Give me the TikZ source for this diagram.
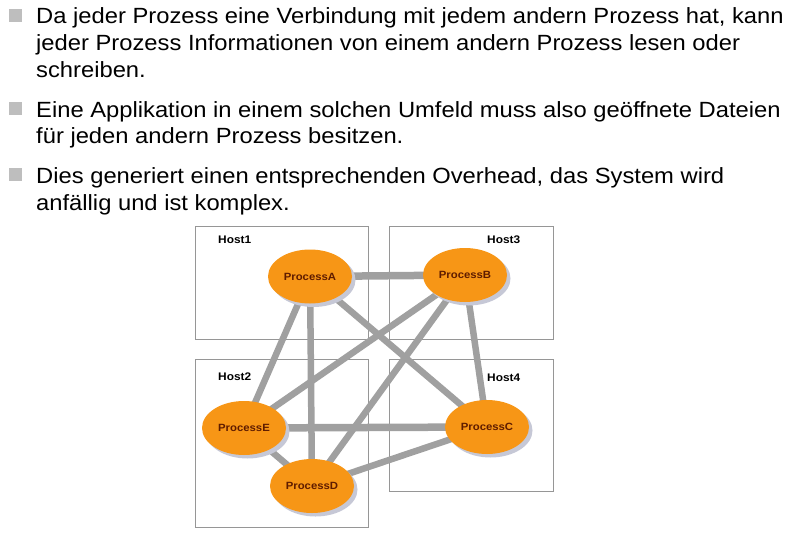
\documentclass[tikz,border=0pt]{standalone}
\usepackage{fontspec}
\setmainfont[FakeStretch=1.08]{Liberation Sans}
\usetikzlibrary{shapes.geometric,shadows,backgrounds}

\definecolor{prozessorange}{RGB}{247,150,22}
\definecolor{prozesstext}{RGB}{95,28,0}
\definecolor{kantengrau}{RGB}{160,160,160}
\definecolor{rahmengrau}{RGB}{150,150,150}
\definecolor{schattengrau}{RGB}{198,200,214}
\definecolor{punktgrau}{RGB}{190,190,190}

\def\zeilen{
         24/{Da jeder Prozess eine Verbindung mit jedem andern Prozess hat, kann},
       50.5/{jeder Prozess Informationen von einem andern Prozess lesen oder},
         77/{schreiben.},
        117/{Eine Applikation in einem solchen Umfeld muss also geöffnete Dateien},
      143.5/{für jeden andern Prozess besitzen.},
        183/{Dies generiert einen entsprechenden Overhead, das System wird},
        210/{anfällig und ist komplex.}
      }
\def\punkte{24,117,183}
% Verbindung/Linienbreite
\def\kanten{A/B/7.5,A/E/6.5,A/D/6.5,A/C/6.5,B/E/6.5,B/D/6.5,B/C/6.5,E/C/7.5,E/D/6.5,D/C/6.5}

\begin{document}
\begin{tikzpicture}[x=1pt,y=-1pt,
    zeile/.style={anchor=base west,inner sep=0pt,font=\fontsize{22}{26}\selectfont},
    hostbox/.style={draw=rahmengrau,line width=1pt},
    hostlabel/.style={anchor=base west,inner sep=0pt,font=\fontsize{11}{13}\selectfont\bfseries},
    prozess/.style={ellipse,fill=prozessorange,minimum width=84pt,minimum height=54pt,
      inner sep=0pt,text=prozesstext,font=\fontsize{10.5}{12}\selectfont\bfseries,
      drop shadow={shadow xshift=3.5pt,shadow yshift=-3.5pt,fill=schattengrau,opacity=1}},
    kante/.style={draw=kantengrau}
  ]
\useasboundingbox (0,0) rectangle (791,535);

% Aufzaehlung
\foreach \y in \punkte {
  \fill[punktgrau] (9,\y-15) rectangle (22,\y-2);
}
\foreach \y/\txt [count=\i from 1] in \zeilen {
  \node[zeile] (zeile\i) at (36,\y) {\txt};
}

% Prozesse
\node[prozess] (procA) at (310,276.5) {ProcessA};
\node[prozess] (procB) at (465,275)   {ProcessB};
\node[prozess] (procE) at (244,428)   {ProcessE};
\node[prozess] (procD) at (312,486)   {ProcessD};
\node[prozess] (procC) at (487,427)   {ProcessC};

\begin{pgfonlayer}{background}
  % Hosts
  \draw[hostbox] (195,226) rectangle (368,339);
  \draw[hostbox] (389,226) rectangle (553,339);
  \draw[hostbox] (195,359) rectangle (368,527);
  \draw[hostbox] (389,359) rectangle (553,491);

  % Verbindungen
  \foreach \a/\b/\w in \kanten {
    \draw[kante,line width=\w pt] (proc\a.center) -- (proc\b.center);
  }
\end{pgfonlayer}

\node[hostlabel] (host1) at (218,243) {Host1};
\node[hostlabel] (host3) at (487,243) {Host3};
\node[hostlabel] (host2) at (218,380) {Host2};
\node[hostlabel] (host4) at (487,381) {Host4};

\end{tikzpicture}
\end{document}
